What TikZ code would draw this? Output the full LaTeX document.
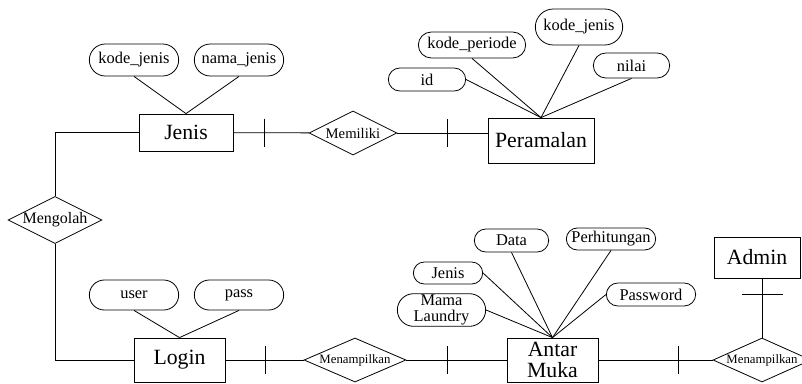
\documentclass[tikz,border=0pt]{standalone}
\usepackage{fontspec}
\setmainfont{Liberation Serif}
\usetikzlibrary{shapes.geometric, shapes.misc}
\tikzset{
  every picture/.style={line width=0.6pt},
  entity/.style={draw, rectangle, inner sep=1pt, align=center, font=\fontsize{16.3}{15.5}\selectfont},
  attr/.style={draw, rounded rectangle, inner sep=1pt, align=center, font=\fontsize{12.3}{11.8}\selectfont},
  rel/.style={draw, diamond, aspect=2, inner sep=0pt, minimum width=66pt, minimum height=33pt},
}

\begin{document}
\begin{tikzpicture}[x=0.75pt, y=-0.75pt]
  \useasboundingbox (0,0) rectangle (802,383);
  \node[entity, minimum width=70.5pt, minimum height=27.75pt] (jenis) at (186,132.5) {Jenis};
  \node[entity, minimum width=79.5pt, minimum height=33.75pt] (peramalan) at (541,140.5) {Peramalan};
  \node[entity, minimum width=68.25pt, minimum height=33pt] (login) at (179.5,360) {Login};
  \node[entity, minimum width=68.25pt, minimum height=33pt] (antarmuka) at (552.5,360) {Antar\\Muka};
  \node[entity, minimum width=64.5pt, minimum height=30.75pt] (admin) at (757,257.5) {Admin};

  \node[rel, font=\fontsize{12}{13}\selectfont] (mengolah) at (55,220) {Mengolah};
  \node[rel, font=\fontsize{11}{12}\selectfont] (memiliki) at (353,133) {Memiliki};
  \node[rel, aspect=2.3, minimum width=76.5pt, font=\fontsize{9.6}{10}\selectfont] (tampil1) at (355,360) {Menampilkan};
  \node[rel, aspect=2.3, minimum width=73.5pt, font=\fontsize{9.6}{10}\selectfont] (tampil2) at (762,360) {Menampilkan};

  \node[attr, minimum width=69pt, minimum height=24pt] (kodejenis) at (134,60) {kode\_jenis};
  \node[attr, minimum width=69pt, minimum height=24pt] (namajenis) at (239,60) {nama\_jenis};
  \node[attr, minimum width=60pt, minimum height=17.25pt] (id) at (427,79.5) {id};
  \node[attr, minimum width=82.5pt, minimum height=19.5pt] (kodeperiode) at (472,45) {kode\_periode};
  \node[attr, minimum width=67.5pt, minimum height=27pt] (kodejenisp) at (579,27) {kode\_jenis};
  \node[attr, minimum width=59.25pt, minimum height=18.75pt] (nilai) at (631.5,65.5) {nilai};
  \node[attr, minimum width=69pt, minimum height=22.5pt] (user) at (134,295) {user};
  \node[attr, minimum width=69pt, minimum height=22.5pt] (pass) at (239,295) {pass};
  \node[attr, minimum width=57.75pt, minimum height=17.25pt] (data) at (511.5,240.5) {Data};
  \node[attr, minimum width=54pt, minimum height=16.5pt] (amjenis) at (448,273) {Jenis};
  \node[attr, minimum width=68.25pt, minimum height=24pt] (mama) at (441.5,310) {Mama\\Laundry};
  \node[attr, minimum width=69pt, minimum height=16.5pt] (hitung) at (611,239) {Perhitungan};
  \node[attr, minimum width=69pt, minimum height=17.25pt] (password) at (651,294.5) {Password};

  \draw (jenis) -| (mengolah);
  \draw (mengolah) |- (login);
  \draw (jenis) -- (memiliki) coordinate[pos=0.41] (t1);
  \draw (memiliki.east) -- (memiliki.east -| peramalan.west) coordinate[pos=0.55] (t2);
  \draw (login) -- (tampil1) coordinate[pos=0.51] (t3);
  \draw (tampil1) -- (antarmuka) coordinate[pos=0.41] (t4);
  \draw (antarmuka) -- (tampil2) coordinate[pos=0.70] (t5);
  \draw (tampil2.north |- admin.south) -- (tampil2.north) coordinate[pos=0.27] (t6);
  \foreach \t in {t1, t2, t3, t4, t5}
    \draw (\t) ++(0,-14) -- ++(0,28);
  \draw (t6) ++(-20,0) -- ++(41,0);

  \foreach \a in {kodejenis, namajenis}
    \draw (\a.south) -- (jenis.north);
  \draw (id.east) -- (peramalan.north);
  \foreach \a in {kodeperiode, kodejenisp, nilai}
    \draw (\a.south) -- (peramalan.north);
  \foreach \a in {user, pass}
    \draw (\a.south) -- (login.north);
  \foreach \a in {data, hitung}
    \draw (\a.south) -- (antarmuka.north);
  \foreach \a in {amjenis, mama}
    \draw (\a.east) -- (antarmuka.north);
  \draw (password.west) -- (antarmuka.north);
\end{tikzpicture}
\end{document}
